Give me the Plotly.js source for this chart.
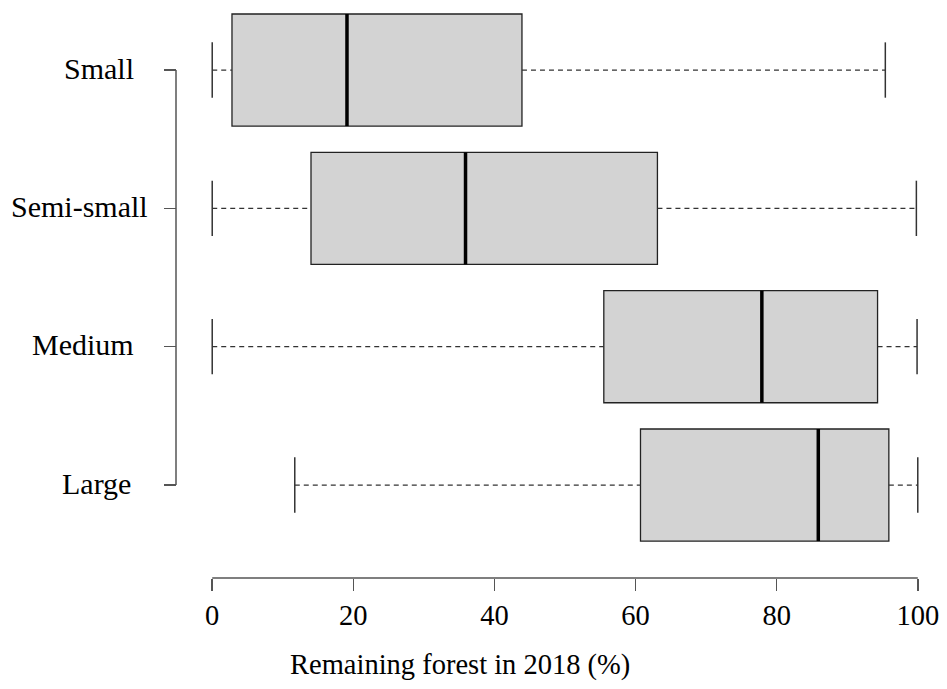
<!DOCTYPE html>
<html>
<head>
<meta charset="utf-8">
<script src="https://cdn.plot.ly/plotly-3.0.1.min.js"></script>
<style>html,body{margin:0;padding:0;background:#fff;}</style>
</head>
<body>
<div id="chart" style="width:947px;height:689px;"></div>
<script>
// ---- data ----
var categories = ["Small", "Semi-small", "Medium", "Large"];
var lowerWhisker = [0.0, 0.0, 0.0, 11.7];
var q1Values     = [2.8, 14.0, 55.5, 60.7];
var medianValues = [19.1, 35.9, 77.9, 85.9];
var q3Values     = [43.9, 63.1, 94.3, 95.9];
var upperWhisker = [95.4, 99.8, 99.9, 100.0];
var xTickValues  = [0, 20, 40, 60, 80, 100];
var xTitle = "Remaining forest in 2018 (%)";

// ---- layout/style ----
var FONT = "Liberation Serif, Times New Roman, serif";
var n = categories.length;
var pos = categories.map(function (c, i) { return n - i; }); // Small at top
var boxHalf = 0.405, capHalf = 0.2;
var labelShift = [-40, -26, -40, -43];

var traces = [];
traces.push({
  type: "box", orientation: "h",
  y: pos, q1: q1Values, median: medianValues, q3: q3Values,
  lowerfence: q1Values, upperfence: q3Values,
  width: boxHalf * 2, whiskerwidth: 0,
  fillcolor: "#d3d3d3", line: { color: "#222", width: 1.3 },
  boxpoints: false, hoverinfo: "skip", showlegend: false
});

function seg(xa, xb, ya, yb) {
  var xs = [], ys = [];
  for (var i = 0; i < n; i++) {
    xs.push(xa(i), xb(i), null); ys.push(ya(i), yb(i), null);
  }
  return { x: xs, y: ys };
}
// whiskers (dashed)
var wl = seg(function (i) { return lowerWhisker[i]; }, function (i) { return q1Values[i]; },
             function (i) { return pos[i]; }, function (i) { return pos[i]; });
var wu = seg(function (i) { return q3Values[i]; }, function (i) { return upperWhisker[i]; },
             function (i) { return pos[i]; }, function (i) { return pos[i]; });
traces.push({ type: "scatter", mode: "lines", x: wl.x.concat(wu.x), y: wl.y.concat(wu.y),
  line: { color: "#333", width: 1.3, dash: "5px,4px" }, hoverinfo: "skip", showlegend: false });
// caps
var cl = seg(function (i) { return lowerWhisker[i]; }, function (i) { return lowerWhisker[i]; },
             function (i) { return pos[i] - capHalf; }, function (i) { return pos[i] + capHalf; });
var cu = seg(function (i) { return upperWhisker[i]; }, function (i) { return upperWhisker[i]; },
             function (i) { return pos[i] - capHalf; }, function (i) { return pos[i] + capHalf; });
traces.push({ type: "scatter", mode: "lines", x: cl.x.concat(cu.x), y: cl.y.concat(cu.y),
  line: { color: "#333", width: 1.5 }, hoverinfo: "skip", showlegend: false });
// medians (thick)
var md = seg(function (i) { return medianValues[i]; }, function (i) { return medianValues[i]; },
             function (i) { return pos[i] - boxHalf; }, function (i) { return pos[i] + boxHalf; });
traces.push({ type: "scatter", mode: "lines", x: md.x, y: md.y,
  line: { color: "#000", width: 3.5 }, hoverinfo: "skip", showlegend: false });

var shapes = [
  { type: "line", xref: "x", yref: "paper", x0: xTickValues[0], x1: xTickValues[xTickValues.length - 1],
    y0: 0, y1: 0, line: { color: "#555", width: 1.5 } },
  { type: "line", xref: "paper", yref: "y", x0: 0, x1: 0, y0: Math.min.apply(null, pos),
    y1: Math.max.apply(null, pos), line: { color: "#555", width: 1.5 } }
];

var annotations = categories.map(function (c, i) {
  return { text: c, xref: "paper", yref: "y", x: 0, y: pos[i], xanchor: "right", yanchor: "middle",
    xshift: labelShift[i], yshift: 2, showarrow: false, font: { family: FONT, size: 30, color: "#000" } };
});
annotations.push({ text: xTitle, xref: "paper", yref: "paper", x: 284 / 770, y: -87 / 577,
  xanchor: "center", yanchor: "middle", showarrow: false,
  font: { family: FONT, size: 28.5, color: "#000" } });

var layout = {
  width: 947, height: 689,
  margin: { l: 176, r: 1, t: 1, b: 111 },
  paper_bgcolor: "#fff", plot_bgcolor: "#fff",
  font: { family: FONT, size: 28, color: "#000" },
  showlegend: false,
  xaxis: {
    domain: [8 / 770, 1], range: [-4, 104],
    showgrid: false, zeroline: false, showline: false,
    ticks: "outside", ticklen: 12, tickwidth: 1.5, tickcolor: "#555",
    tickvals: xTickValues, ticktext: xTickValues.map(String),
    tickfont: { family: FONT, size: 28.5, color: "#000" },
    fixedrange: true
  },
  yaxis: {
    anchor: "free", position: 0,
    range: [0.328, 4.499],
    showgrid: false, zeroline: false, showline: false,
    ticks: "outside", ticklen: 12, tickwidth: 1.5, tickcolor: "#555",
    tickvals: pos, showticklabels: false, fixedrange: true
  },
  shapes: shapes,
  annotations: annotations
};

Plotly.newPlot("chart", traces, layout, { displayModeBar: false, staticPlot: true });
</script>
</body>
</html>
